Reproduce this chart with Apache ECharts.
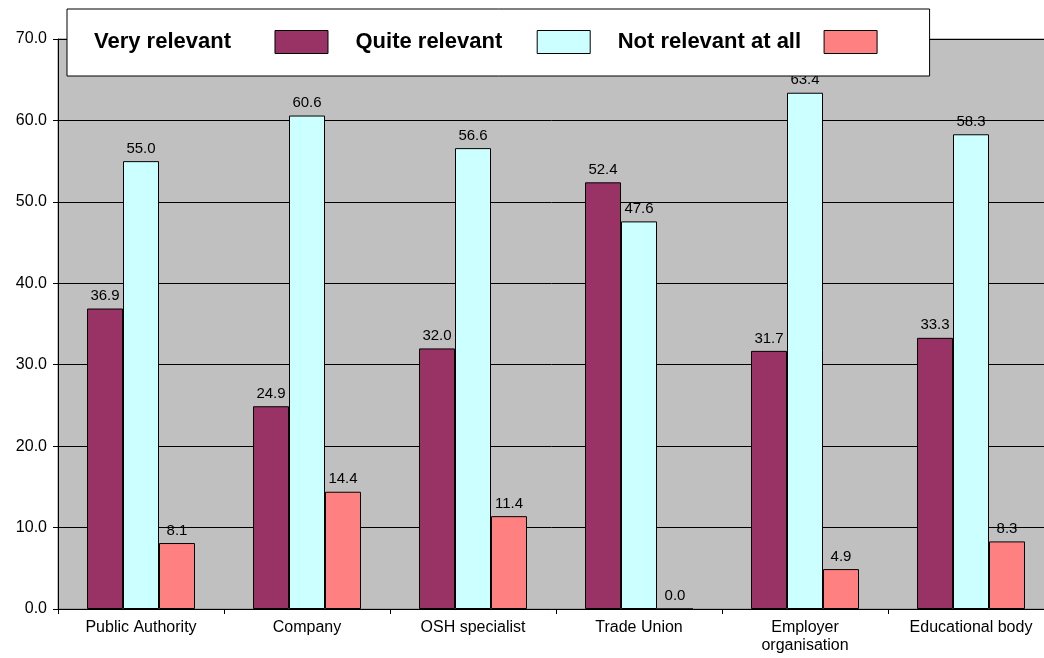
<!DOCTYPE html>
<html>
<head>
<meta charset="utf-8">
<script src="https://cdn.jsdelivr.net/npm/echarts@6/dist/echarts.min.js"></script>
<style>
  html, body { margin: 0; padding: 0; background: #fff; }
  #chart { width: 1044px; height: 658px; }
</style>
</head>
<body>
<div id="chart"></div>
<script>
// Organisation types on the category axis
const categories = ['Public Authority', 'Company', 'OSH specialist', 'Trade Union', 'Employer\norganisation', 'Educational body'];

// Share of answers (%) per organisation type
const veryRelevant = [36.9, 24.9, 32.0, 52.4, 31.7, 33.3];
const quiteRelevant = [55.0, 60.6, 56.6, 47.6, 63.4, 58.3];
const notRelevant = [8.1, 14.4, 11.4, 0.0, 4.9, 8.3];

const seriesNames = ['Very relevant', 'Quite relevant', 'Not relevant at all'];
const seriesColors = ['#993366', '#CCFFFF', '#FF8080'];
const seriesValues = [veryRelevant, quiteRelevant, notRelevant];

// Value axis ticks
const yMin = 0, yMax = 70, yStep = 10;

const FONT = "'Liberation Sans', Arial, sans-serif";

const chart = echarts.init(document.getElementById('chart'), null, { renderer: 'canvas' });

// Extra space between each legend text and its colour box
const legendTextPad = [39, 30, 18];

const option = {
  animation: false,
  backgroundColor: '#ffffff',
  textStyle: { fontFamily: FONT },
  grid: {
    left: 58, top: 39, width: 996, height: 570,
    outerBoundsMode: 'none',
    containLabel: false,
    show: true,
    backgroundColor: '#C0C0C0',
    borderColor: '#808080',
    borderWidth: 1
  },
  legend: {
    left: 67, top: 9,
    align: 'right',
    orient: 'horizontal',
    padding: [21, 52, 22, 27],
    itemGap: 27,
    itemWidth: 53,
    itemHeight: 23,
    backgroundColor: '#ffffff',
    borderColor: '#000000',
    borderWidth: 1,
    icon: 'rect',
    itemStyle: { borderColor: '#000000', borderWidth: 1 },
    textStyle: { fontFamily: FONT, fontSize: 22, fontWeight: 'bold', color: '#000' },
    data: seriesNames.map((n, i) => ({
      name: n,
      textStyle: { padding: [0, legendTextPad[i], 0, 0] }
    }))
  },
  xAxis: {
    type: 'category',
    data: categories,
    axisLine: { lineStyle: { color: '#000', width: 1 } },
    axisTick: { show: true, length: 5, lineStyle: { color: '#000' } },
    axisLabel: { fontFamily: FONT, fontSize: 16, color: '#000', margin: 10, lineHeight: 18, interval: 0 },
    splitLine: { show: false }
  },
  yAxis: {
    type: 'value',
    min: yMin, max: yMax, interval: yStep,
    axisLine: { show: true, lineStyle: { color: '#000', width: 1 } },
    axisTick: { show: true, length: 5, lineStyle: { color: '#000' } },
    axisLabel: {
      fontFamily: FONT, fontSize: 16, color: '#000', margin: 11,
      formatter: v => v.toFixed(1)
    },
    splitLine: { show: true, lineStyle: { color: '#000', width: 1 } }
  },
  series: seriesNames.map((n, i) => ({
    name: n,
    type: 'bar',
    data: seriesValues[i],
    barWidth: 36,
    barGap: '0%',
    itemStyle: { color: seriesColors[i], borderColor: '#000', borderWidth: 1 },
    label: {
      show: true,
      position: 'top',
      distance: 5,
      fontFamily: FONT,
      fontSize: 15,
      color: '#000',
      formatter: p => Number(p.value).toFixed(1)
    }
  }))
};

chart.setOption(option);
</script>
</body>
</html>
